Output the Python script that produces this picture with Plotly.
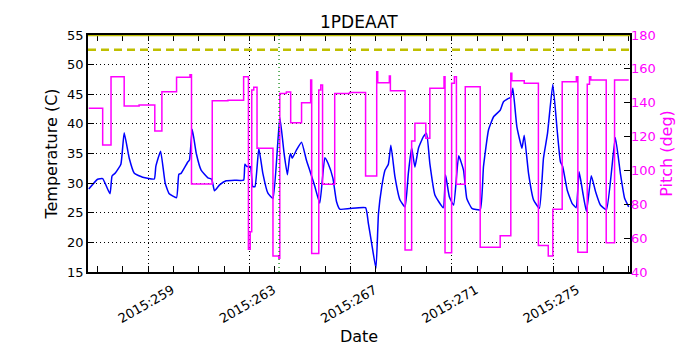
"""1PDEAAT temperature and pitch history, redrawn with Plotly."""

import plotly.graph_objects as go

# Temperature track (day of year 2015, deg C)
temp_days = [
    256.65, 257.00, 257.20, 257.49, 257.57, 257.70, 257.92, 258.05, 258.25, 258.45,
    258.78, 259.24, 259.30, 259.49, 259.67, 259.83, 260.12, 260.21, 260.30, 260.57,
    260.63, 260.74, 260.90, 261.09, 261.36, 261.51, 261.62, 261.82, 262.08, 262.41,
    262.77, 262.82, 262.90, 263.04, 263.13, 263.22, 263.37, 263.53, 263.73, 263.93,
    264.20, 264.37, 264.50, 264.59, 264.63, 264.69, 264.86, 265.06, 265.25, 265.41,
    265.58, 265.78, 265.98, 266.11, 266.30, 266.44, 266.57, 266.96, 267.59, 267.70,
    267.83, 268.00, 268.10, 268.23, 268.36, 268.49, 268.59, 268.75, 268.95, 269.15,
    269.28, 269.41, 269.54, 269.68, 269.87, 270.00, 270.13, 270.33, 270.66, 270.75,
    270.90, 271.07, 271.27, 271.46, 271.59, 271.79, 272.12, 272.25, 272.45, 272.65,
    272.91, 273.04, 273.24, 273.33, 273.41, 273.57, 273.77, 273.86, 274.03, 274.23,
    274.46, 274.62, 274.78, 274.99, 275.16, 275.29, 275.38, 275.56, 275.75, 275.91,
    276.03, 276.19, 276.32, 276.51, 276.68, 276.87, 277.11, 277.46, 277.66, 277.83,
    277.99,
]
temp_values = [
    29.0, 30.65, 30.75, 28.2, 31.2, 31.7, 33.2, 38.5, 34.2, 31.65,
    31.0, 30.7, 32.8, 35.4, 30.0, 28.2, 27.55, 31.5, 31.65, 33.6,
    33.9, 39.1, 35.0, 32.2, 30.9, 30.65, 28.7, 29.7, 30.4, 30.5,
    30.5, 33.2, 32.8, 32.8, 29.4, 29.4, 35.9, 31.65, 28.3, 27.4,
    41.1, 35.0, 31.4, 34.5, 35.0, 34.2, 35.6, 36.9, 33.9, 31.8,
    29.5, 26.6, 34.3, 33.3, 30.8, 26.9, 25.6, 25.7, 25.85, 23.2,
    19.85, 15.6, 24.9, 29.4, 32.2, 33.2, 36.4, 31.1, 27.15, 26.0,
    31.65, 36.0, 32.7, 35.9, 37.8, 38.4, 33.3, 28.0, 25.85, 31.4,
    27.7, 26.3, 34.6, 32.2, 27.4, 25.75, 25.5, 32.8, 39.0, 41.2,
    42.3, 43.75, 44.3, 44.5, 46.0, 39.5, 35.9, 38.1, 31.65, 27.15,
    25.75, 34.2, 38.4, 46.7, 39.0, 33.6, 32.8, 28.8, 26.6, 25.85,
    31.9, 28.0, 25.2, 31.25, 28.55, 26.3, 25.5, 37.7, 31.65, 27.4,
    26.0,
]

# Pitch history (step changes, deg)
pitch_days = [
    256.65, 257.20, 257.53, 258.05, 258.64, 259.26, 259.54, 260.12, 260.65, 260.71,
    261.53, 262.15, 262.77, 262.96, 263.03, 263.09, 263.17, 263.30, 263.93, 264.16,
    264.20, 264.46, 264.63, 265.06, 265.42, 265.46, 265.74, 265.82, 265.89, 266.37,
    266.96, 267.59, 268.03, 268.07, 268.53, 268.57, 269.15, 269.41, 269.54, 269.97,
    270.13, 270.69, 270.73, 270.99, 271.10, 271.18, 271.53, 272.12, 272.91, 273.33,
    273.37, 273.86, 274.42, 274.81, 274.99, 275.36, 275.92, 275.98, 276.35, 276.44,
    276.49, 277.10, 277.43, 277.99,
]
pitch_values = [
    136.7, 115.0, 155.4, 138.1, 138.65, 123.3, 146.5, 155.0, 156.5, 92.0,
    141.2, 141.5, 155.4, 53.5, 63.8, 147.5, 149.1, 113.1, 49.5, 48.1,
    145.5, 146.3, 128.2, 140.0, 153.4, 51.0, 147.5, 150.5, 91.8, 145.5,
    146.1, 96.7, 158.3, 151.8, 155.8, 147.1, 53.0, 117.4, 127.8, 119.0,
    148.5, 155.4, 51.4, 151.5, 155.4, 91.8, 149.5, 54.6, 61.4, 157.4,
    153.0, 151.5, 55.6, 49.5, 77.0, 152.4, 155.4, 51.6, 150.9, 155.4,
    153.4, 57.3, 153.4, 153.4,
]

day_ticks = [259, 263, 267, 271, 275]
day_labels = ["2015:259", "2015:263", "2015:267", "2015:271", "2015:275"]
day_range = [256.62, 278.04]

planning_limit = 55.0
caution_limit = 52.5
now_day = 264.17

fig = go.Figure()

fig.add_trace(go.Scatter(
    x=temp_days, y=temp_values, mode="lines",
    line=dict(color="#0000ff", width=1.5, shape="spline", smoothing=0.4),
    name="Temperature", yaxis="y",
))
fig.add_trace(go.Scatter(
    x=pitch_days, y=pitch_values, mode="lines",
    line=dict(color="#ff00ff", width=1.5, shape="hv"),
    name="Pitch", yaxis="y2",
))

# limit lines and current time marker
fig.add_shape(type="line", xref="paper", x0=0, x1=1, yref="y",
              y0=planning_limit, y1=planning_limit,
              line=dict(color="#bfbf00", width=2.5))
fig.add_shape(type="line", xref="paper", x0=0, x1=1, yref="y",
              y0=caution_limit, y1=caution_limit,
              line=dict(color="#bfbf00", width=2.5, dash="8px,5px"))
fig.add_shape(type="line", xref="x", x0=now_day, x1=now_day, yref="paper",
              y0=0, y1=1, line=dict(color="#008000", width=1.2, dash="1px,3px"))

font = dict(family="DejaVu Sans, sans-serif", size=13, color="black")

# the page body adds an 8px margin, so the figure is drawn 8px smaller
fig.update_layout(
    width=692,
    height=342,
    margin=dict(l=80, r=70, t=27, b=78),
    paper_bgcolor="white",
    plot_bgcolor="white",
    showlegend=False,
    font=font,
    title=dict(text="1PDEAAT", x=0.507, xref="container", xanchor="center",
               y=0.958, yref="container", yanchor="middle",
               font=dict(size=17), automargin=False),
    xaxis=dict(
        range=day_range,
        tickvals=day_ticks,
        ticktext=day_labels,
        tickangle=-30,
        ticklabelshift=24,
        ticklabelstandoff=4,
        ticks="inside", ticklen=6, tickcolor="black",
        minor=dict(ticks="inside", ticklen=3, dtick=1, tick0=259, tickcolor="black"),
        showline=True, linecolor="black", linewidth=1.5, mirror="allticks",
        showgrid=True, gridcolor="black", gridwidth=0.6, griddash="1px,3px",
        zeroline=False,
        automargin=False,
        title=dict(text="Date", standoff=6),
    ),
    yaxis=dict(
        range=[15, 55],
        dtick=5,
        ticks="inside", ticklen=6, tickcolor="black",
        showline=True, linecolor="black", linewidth=1.5, mirror=True,
        showgrid=True, gridcolor="black", gridwidth=0.6, griddash="1px,3px",
        zeroline=False,
        automargin=False,
        title=dict(text="Temperature (C)", standoff=6),
    ),
    yaxis2=dict(
        range=[40, 180],
        dtick=20,
        overlaying="y",
        side="right",
        ticks="inside", ticklen=6, tickcolor="black",
        tickfont=dict(color="#ff00ff"),
        showline=False,
        showgrid=False,
        zeroline=False,
        automargin=False,
        title=dict(text="Pitch (deg)", font=dict(color="#ff00ff"), standoff=5),
    ),
)

fig.write_html("out.html")
